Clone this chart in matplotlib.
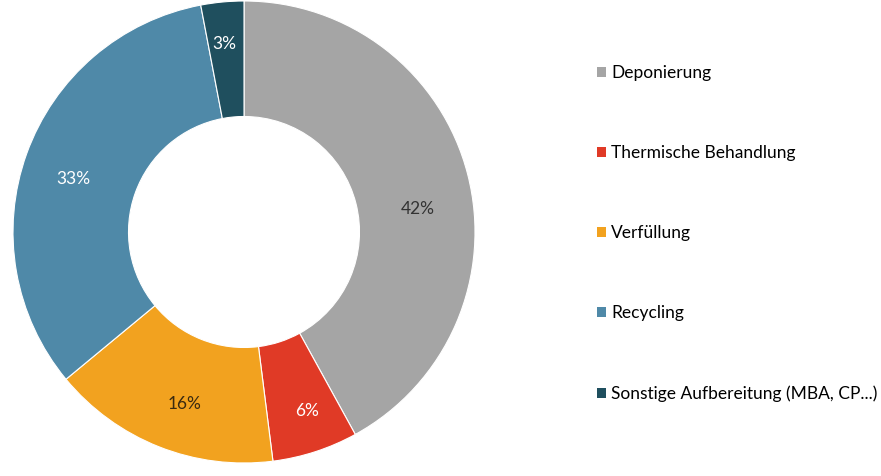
import matplotlib
matplotlib.use("Agg")
import matplotlib.pyplot as plt
import numpy as np
from matplotlib.patches import Patch

categories = ["Deponierung", "Thermische Behandlung", "Verfüllung", "Recycling",
              "Sonstige Aufbereitung (MBA, CP...)"]
values = [42, 6, 16, 33, 3]
colors = ["#A5A5A5", "#E03A26", "#F2A21F", "#4F89A8", "#1F4F5E"]
label_colors = ["#333333", "white", "#3A2A10", "white", "white"]

plt.rcParams['font.family'] = ['Lato', 'DejaVu Sans']

W, H = 881, 476
fig = plt.figure(figsize=(W / 100, H / 100), dpi=100)
cx, cy, r = 244, 244, 231
ax = fig.add_axes([(cx - r) / W, (cy - r) / H, 2 * r / W, 2 * r / H])

wedges, _ = ax.pie(values, colors=colors, startangle=90, counterclock=False,
                   radius=1, wedgeprops=dict(width=0.5, edgecolor="white", linewidth=0.8),
                   center=(0, 0), frame=False)
ax.set_xlim(-1, 1)
ax.set_ylim(-1, 1)
ax.set_aspect("auto")
ax.axis("off")

label_r = [0.76, 0.82, 0.79, 0.775, 0.82]
angle_shift = [-6.9, 1.4, 2.5, 2.6, 0.7]
for w, v, c, rr, s in zip(wedges, values, label_colors, label_r, angle_shift):
    ang = np.deg2rad((w.theta1 + w.theta2) / 2 + s)
    ax.text(rr * np.cos(ang), rr * np.sin(ang), f"{v}%", color=c,
            ha="center", va="center", fontsize=12.5)

handles = [Patch(facecolor=c, edgecolor="none") for c in colors]
fig.legend(handles, categories, loc="upper left", bbox_to_anchor=(597 / W, 1 - 65 / H),
           frameon=False, fontsize=12.5, handlelength=0.52, handleheight=0.52,
           handletextpad=0.28, labelspacing=3.69, borderaxespad=0, borderpad=0)

fig.savefig("out.png", dpi=100, facecolor="white")
